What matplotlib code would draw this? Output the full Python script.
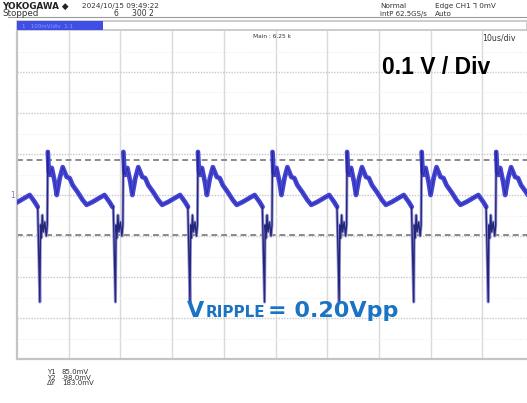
import numpy as np
import matplotlib
matplotlib.use('Agg')
import matplotlib.pyplot as plt
from matplotlib.patches import Rectangle
from matplotlib.lines import Line2D

W, H = 527, 403

# one switching period: time after the negative spike (us), level (mV)
period_t = [0.0, 0.12, 0.29, 0.48, 0.67, 0.96, 1.25, 1.44, 1.54, 1.73, 1.92, 2.31, 2.88, 3.27,
            3.85, 4.42, 5.19, 5.77, 6.35, 7.31, 8.27, 9.04, 10.19, 11.54, 12.50, 13.46, 14.04]
period_mv = [-261, -73, -105, -49, -90, -66, -100, -73, 105, 56, 49, 66, 32, 0,
             41, 68, 44, 41, 24, 7, -12, -24, -17, -7, 0, -17, -29]
# negative spike positions on the 100 us screen
spike_times = [-10.04, 4.42, 19.04, 33.46, 47.88, 62.31, 76.73, 91.15]

cursor_y1 = 85.0
cursor_y2 = -98.0
readout = [('Y1', '85.0mV'), ('Y2', '-98.0mV'), ('ΔY', '183.0mV')]

hdr_left = ['YOKOGAWA ◆', '2024/10/15 09:49:22']
hdr_mid = ['Stopped', '6', '300 2']
hdr_right = ['Normal', 'Edge CH1 ⅂ 0mV', 'intP 62.5GS/s', 'Auto']

small = ['DejaVu Sans']


def fx(x):
    return x / W


def fy(y):
    return 1 - y / H


fig = plt.figure(figsize=(W / 100, H / 100), dpi=100)
ax = fig.add_axes([fx(17), fy(359), (534 - 17) / W, (359 - 31) / H])
ax.set_xlim(0, 100)
ax.set_ylim(-400, 400)
ax.set_xticks([])
ax.set_yticks([])
for s in ['top', 'right']:
    ax.spines[s].set_visible(False)
for s in ['left', 'bottom']:
    ax.spines[s].set_color('#c4c4c4')
    ax.spines[s].set_linewidth(1.6)

# grid
for t in range(10, 100, 10):
    ax.axvline(t, color='#dadada', lw=1.0, zorder=0)
for v in range(-300, 400, 100):
    ax.axhline(v, color='#c8c8c8', lw=1.0, ls=(0, (1, 1)), zorder=0)
for v in range(-350, 400, 100):
    ax.axhline(v, color='#eeeeee', lw=0.8, ls=(0, (1, 1.5)), zorder=0)

# cursors
ax.axhline(cursor_y1, color='#8a8a8a', lw=1.4, ls=(0, (3, 2)), zorder=1)
ax.axhline(cursor_y2, color='#8a8a8a', lw=1.4, ls=(0, (3, 2)), zorder=1)

# trace: body (thick band) and spike part (thin dark)
pt = np.array(period_t)
pv = np.array(period_mv)
for t0 in spike_times:
    body_t = t0 + pt[8:]
    body_v = pv[8:]
    ax.plot(body_t, body_v, color='#4646d6', lw=3.4, solid_capstyle='round', zorder=3)
    ax.plot(body_t, body_v, color='#2a2aa6', lw=0.6, zorder=4)
    sp_t = np.concatenate([[t0 - 14.46 + pt[-1]], t0 + pt[:9]])
    sp_v = np.concatenate([[pv[-1]], pv[:9]])
    ax.plot(sp_t, sp_v, color='#9a9ad8', lw=2.2, zorder=2)
    ax.plot(sp_t, sp_v, color='#25257a', lw=1.0, zorder=3)

# header
fig.text(fx(2), fy(6), hdr_left[0], fontsize=6.3, fontweight='bold', family=small, va='center',
         color='#222222')
fig.text(fx(82), fy(6), hdr_left[1], fontsize=5.2, family=small, va='center', color='#333333')
fig.text(fx(2), fy(14), hdr_mid[0], fontsize=6.3, family=small, va='center', color='#333333')
fig.text(fx(114), fy(14), hdr_mid[1], fontsize=5.5, family=small, va='center', color='#333333')
fig.text(fx(132), fy(14), hdr_mid[2], fontsize=5.5, family=small, va='center', color='#333333')
fig.text(fx(380), fy(6), hdr_right[0], fontsize=5.2, family=small, va='center', color='#333333')
fig.text(fx(435), fy(6), hdr_right[1], fontsize=5.2, family=small, va='center', color='#333333')
fig.text(fx(380), fy(14), hdr_right[2], fontsize=5.0, family=small, va='center', color='#333333')
fig.text(fx(435), fy(14), hdr_right[3], fontsize=5.2, family=small, va='center', color='#333333')
fig.add_artist(Line2D([fx(8), 1], [fy(17), fy(17)], color='#9a9a9a', lw=0.8))

# channel strip
fig.add_artist(Rectangle((fx(17), fy(30)), (527 - 17) / W, 8.5 / H, facecolor='white',
                         edgecolor='#c4c4c4', lw=1.2))
fig.add_artist(Rectangle((fx(17), fy(30)), (103 - 17) / W, 8.5 / H, facecolor='#3f4fe6',
                         edgecolor='none'))
fig.text(fx(22), fy(25.5), '1   100mV/div  1:1', fontsize=4, family=small, va='center', color='#8c9cff')

fig.text(fx(253), fy(37), 'Main : 6.25 k', fontsize=4.2, family=small, va='center', color='#333333')
fig.text(fx(482), fy(38), '10us/div', fontsize=5.6, family=small, va='center', color='#333333')
fig.text(fx(10), fy(195), '1', fontsize=5.5, family=small, va='center', color='#7080c0')

# annotations
fig.text(fx(382), fy(67), '0.1 V / Div', fontsize=16.5, fontweight='bold', family='Liberation Sans',
         va='center', color='black')
fig.text(fx(187), fy(317), 'V', fontsize=16, fontweight='bold', family='DejaVu Sans',
         va='baseline', color='#1a73c3')
fig.text(fx(206), fy(317), 'RIPPLE', fontsize=11, fontweight='bold', family='DejaVu Sans',
         va='baseline', color='#1a73c3')
fig.text(fx(268), fy(317), '= 0.20Vpp', fontsize=16, fontweight='bold', family='DejaVu Sans',
         va='baseline', color='#1a73c3')

# cursor readout
for i, (k, v) in enumerate(readout):
    yy = 372 + i * 5.5
    fig.text(fx(47), fy(yy), k, fontsize=5, family=small, va='center', color='#333333')
    fig.text(fx(62), fy(yy), v, fontsize=5, family=small, va='center', color='#333333')

fig.savefig('out.png', dpi=100)
